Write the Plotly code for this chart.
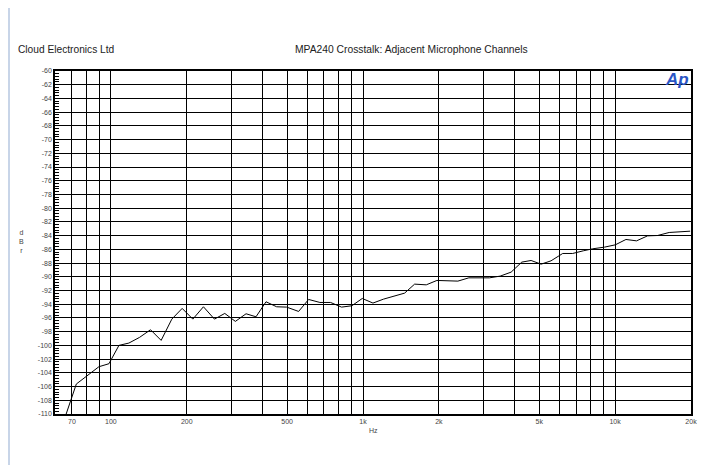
import plotly.graph_objects as go
import math

# Frequency (Hz) and crosstalk (dBr)
freq_hz = [60.5, 66.3, 72.9, 80.3, 89.6, 98.2, 107.6, 117.8, 129.9, 143.6, 158.2,
           174.4, 191.7, 211.3, 232.8, 257.4, 282.9, 311.7, 343.6, 376.3, 412.3,
           454.3, 497.8, 555.3, 608.4, 674.5, 743.5, 822.0, 903.2, 993.0, 1095,
           1207, 1335, 1462, 1602, 1782, 1964, 2171, 2378, 2629, 2897, 3175,
           3500, 3868, 4264, 4642, 5086, 5570, 6196, 6786, 7479, 8145, 9063,
           10016, 11040, 12165, 13451, 14737, 16388, 18061, 19848]
crosstalk_dbr = [-117.0, -110.1, -105.63, -104.42, -103.11, -102.67, -100.0, -99.66,
                 -98.83, -97.72, -99.27, -96.17, -94.61, -96.17, -94.37, -96.17,
                 -95.34, -96.50, -95.39, -95.83, -93.64, -94.37, -94.42, -95.05,
                 -93.30, -93.74, -93.74, -94.42, -94.22, -93.16, -93.83, -93.25,
                 -92.82, -92.38, -91.07, -91.17, -90.53, -90.58, -90.63, -90.15,
                 -90.15, -90.15, -89.90, -89.32, -87.86, -87.62, -88.16, -87.67,
                 -86.60, -86.60, -86.21, -85.92, -85.68, -85.34, -84.56, -84.76,
                 -84.03, -83.98, -83.54, -83.45, -83.35]

x_tick_vals = [70, 80, 90, 100, 200, 300, 400, 500, 600, 700, 800, 900,
               1000, 2000, 3000, 4000, 5000, 6000, 7000, 8000, 9000, 10000, 20000]
x_tick_text = ["70", "", "", "100", "200", "", "", "500", "", "", "", "",
               "1k", "2k", "", "", "5k", "", "", "", "", "10k", "20k"]
y_tick_vals = list(range(-110, -59, 2))
y_tick_text = [str(v) for v in y_tick_vals]

# page has an 8px body margin; figure coords = page coords - 8
OFF = 8
W, H = 715, 457
L, R, T, B = 47, 32, 63, 51
pw, ph = W - L - R, H - T - B

def px(page_x):
    return (page_x - OFF - L) / pw

def py(page_y):
    return (H - B - (page_y - OFF)) / ph

FONT = "Liberation Sans, Arial, sans-serif"

fig = go.Figure()
fig.add_trace(go.Scatter(x=freq_hz, y=crosstalk_dbr, mode="lines",
                         line=dict(color="black", width=1), showlegend=False,
                         hoverinfo="skip"))

fig.update_layout(
    width=W, height=H,
    margin=dict(l=L, r=R, t=T, b=B, pad=0),
    paper_bgcolor="white", plot_bgcolor="white",
    font=dict(family=FONT, color="#333"),
    xaxis=dict(type="log", range=[math.log10(60), math.log10(20000)],
               tickmode="array", tickvals=x_tick_vals, ticktext=x_tick_text,
               showgrid=True, gridcolor="black", gridwidth=1,
               showline=True, linecolor="black", linewidth=1.5, mirror=True,
               ticks="", tickfont=dict(size=7, color="#444", family=FONT),
               zeroline=False, fixedrange=True),
    yaxis=dict(range=[-110, -60], tickmode="array", tickvals=y_tick_vals,
               ticktext=y_tick_text,
               showgrid=True, gridcolor="black", gridwidth=1,
               showline=True, linecolor="black", linewidth=1.5, mirror=True,
               ticks="inside", ticklen=6, tickcolor="black", tickwidth=1,
               minor=dict(ticks="inside", dtick=0.4, tick0=-60, ticklen=4,
                          tickcolor="black", tickwidth=1, showgrid=False),
               tickfont=dict(size=7, color="#444", family=FONT),
               zeroline=False, fixedrange=True),
)

annotations = [
    dict(text="Cloud Electronics Ltd", x=px(16), y=py(50), xref="paper", yref="paper",
         xanchor="left", yanchor="middle", showarrow=False,
         font=dict(size=10.2, color="#222", family=FONT)),
    dict(text="MPA240 Crosstalk: Adjacent Microphone Channels", x=px(411), y=py(50),
         xref="paper", yref="paper", xanchor="center", yanchor="middle",
         showarrow=False, font=dict(size=10.3, color="#222", family=FONT)),
    dict(text="<b><i>Ap</i></b>", x=1, y=1, xref="paper", yref="paper",
         xanchor="right", yanchor="top", showarrow=False, xshift=0, yshift=3,
         font=dict(size=17, color="#2a55c4", family=FONT)),
    dict(text="Hz", x=px(373), y=py(431), xref="paper", yref="paper",
         xanchor="center", yanchor="middle", showarrow=False,
         font=dict(size=7, color="#444", family=FONT)),
    dict(text="d<br>B<br>r", x=px(21), y=py(242), xref="paper", yref="paper",
         xanchor="center", yanchor="middle", showarrow=False,
         font=dict(size=7, color="#444", family=FONT)),
]
fig.update_layout(annotations=annotations)

fig.add_shape(type="rect", xref="paper", yref="paper",
              x0=px(9), x1=px(717), y0=py(5), y1=py(480),
              line=dict(color="#c8d5e8", width=2), fillcolor="rgba(0,0,0,0)",
              layer="below")

fig.write_html("out.html")
